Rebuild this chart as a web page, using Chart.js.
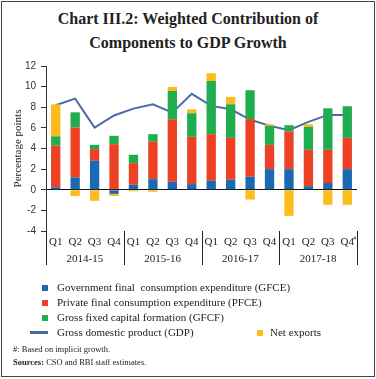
<!DOCTYPE html>
<html><head><meta charset="utf-8">
<script src="https://cdn.jsdelivr.net/npm/chart.js@4.4.1/dist/chart.umd.min.js"></script>
<style>
html,body{margin:0;padding:0;background:#fff;}
body{width:376px;height:379px;position:relative;overflow:hidden;font-family:"Liberation Serif",serif;color:#222;}
#frame{position:absolute;left:1px;top:1px;width:372px;height:374px;border:1px solid #444;}
#title{position:absolute;left:0;top:7px;width:376px;text-align:center;font-weight:bold;font-size:16px;line-height:24px;color:#222;}
#cv{position:absolute;left:0;top:0;}
.lg{position:absolute;font-size:11px;line-height:12px;white-space:nowrap;color:#222;}
.sq{position:absolute;width:6px;height:6px;}
.ln{position:absolute;width:18px;height:3px;}
.fn{position:absolute;left:13px;font-size:8.5px;white-space:nowrap;color:#222;}
</style></head>
<body>
<div id="frame"></div>
<div id="title">Chart III.2: Weighted Contribution of<br>Components to GDP Growth</div>
<canvas id="cv" width="376" height="379"></canvas>
<div class="sq" style="left:42px;top:285px;background:#1a6ab3"></div><div class="lg" style="left:57px;top:281px">Government final&nbsp; consumption expenditure (GFCE)</div>
<div class="sq" style="left:42px;top:300px;background:#ec4125"></div><div class="lg" style="left:57px;top:296px">Private final consumption expenditure (PFCE)</div>
<div class="sq" style="left:42px;top:315px;background:#20ad4f"></div><div class="lg" style="left:57px;top:311px">Gross fixed capital formation (GFCF)</div>
<div class="ln" style="left:30px;top:331px;background:#4a6aa9"></div><div class="lg" style="left:57px;top:326px">Gross domestic product (GDP)</div>
<div class="sq" style="left:257px;top:330px;background:#fdbc1a"></div><div class="lg" style="left:270px;top:326px">Net exports</div>
<div class="fn" style="top:344px">#: Based on implicit growth.</div>
<div class="fn" style="top:357px"><b>Sources:</b> CSO and RBI staff estimates.</div>
<script>
const quarters = ['Q1','Q2','Q3','Q4','Q1','Q2','Q3','Q4','Q1','Q2','Q3','Q4','Q1','Q2','Q3','Q4'];
const years = ['2014-15','2015-16','2016-17','2017-18'];
const yTicks = [12,10,8,6,4,2,0,-2,-4];
const gfce = [0.25,1.2,2.8,-0.4,0.48,1.03,0.77,0.55,0.87,0.97,1.26,2.0,2.0,0.35,0.65,2.0];
const pfce = [4.03,4.84,1.14,4.42,2.1,3.62,6.07,4.58,4.52,4.06,5.58,2.35,3.65,3.52,3.22,3.03];
const gfcf = [0.9,1.47,0.41,0.81,0.81,0.74,2.74,2.29,5.16,3.26,2.81,1.84,0.61,2.23,4.03,3.07];
const netExports = [3.1,-0.6,-1.07,-0.2,-0.15,-0.2,0.39,0.38,0.75,0.71,-0.95,0.16,-2.53,0.25,-1.46,-1.46];
const gdp = [8.2,8.84,6.03,7.2,7.87,8.29,7.48,9.3,8.13,7.8,6.8,6.2,5.77,6.58,7.26,7.26];

const C_BLUE='#1a6ab3', C_RED='#ec4125', C_GREEN='#20ad4f', C_YELLOW='#fdbc1a', C_LINE='#4a6aa9';

const groupPlugin = {
  id:'groups',
  afterDraw(chart){
    const ctx = chart.ctx, xs = chart.scales.x, ys = chart.scales.y;
    const area = chart.chartArea;
    const n = quarters.length, per = n/years.length;
    const step = (area.right-area.left)/n;
    ctx.save();
    ctx.strokeStyle='#222'; ctx.lineWidth=1;
    for(let g=0; g<=years.length; g++){
      const x = Math.round(area.left + g*per*step)+0.5;
      ctx.beginPath(); ctx.moveTo(x, g===0?area.bottom:area.bottom); ctx.lineTo(x, 265); ctx.stroke();
    }
    ctx.fillStyle='#222'; ctx.font='11px "Liberation Serif", serif';
    ctx.textAlign='center'; ctx.textBaseline='middle';
    years.forEach((yr,g)=>{
      const cx = (xs.getPixelForValue(g*per) + xs.getPixelForValue(g*per+per-1))/2;
      ctx.fillText(yr, cx, 259);
    });
    // superscript on last quarter label
    const lx = xs.getPixelForValue(n-1);
    ctx.font='6px "Liberation Serif", serif';
    ctx.textAlign='left';
    ctx.fillText('#', lx+6, 238);
    ctx.restore();
  }
};

new Chart(document.getElementById('cv'), {
  data:{
    labels: quarters,
    datasets:[
      {type:'line', label:'Gross domestic product (GDP)', data:gdp, borderColor:C_LINE, borderWidth:2, pointRadius:0, tension:0, order:10, fill:false},
      {type:'bar', label:'Government final consumption expenditure (GFCE)', data:gfce, backgroundColor:C_BLUE, stack:'s', order:1, categoryPercentage:1, barPercentage:0.48},
      {type:'bar', label:'Private final consumption expenditure (PFCE)', data:pfce, backgroundColor:C_RED, stack:'s', order:1, categoryPercentage:1, barPercentage:0.48},
      {type:'bar', label:'Gross fixed capital formation (GFCF)', data:gfcf, backgroundColor:C_GREEN, stack:'s', order:1, categoryPercentage:1, barPercentage:0.48},
      {type:'bar', label:'Net exports', data:netExports, backgroundColor:C_YELLOW, stack:'s', order:1, categoryPercentage:1, barPercentage:0.48}
    ]
  },
  options:{
    responsive:false, animation:false, devicePixelRatio:1,
    layout:{padding:{left:0, right:19, top:66, bottom:108}},
    plugins:{legend:{display:false}, tooltip:{enabled:false}, title:{display:false}},
    scales:{
      x:{
        stacked:true,
        grid:{display:false, drawTicks:false},
        border:{display:false},
        ticks:{font:{family:'"Liberation Serif", serif', size:11}, color:'#222', padding:5, maxRotation:0, autoSkip:false},
        afterFit(s){ s.height = 40; }
      },
      y:{
        stacked:true, min:-4, max:12,
        afterBuildTicks(s){ s.ticks = yTicks.map(v=>({value:v})); },
        grid:{drawOnChartArea:true, drawTicks:true, tickLength:5,
          color:(c)=> c.tick && c.tick.value===0 ? '#111' : 'rgba(0,0,0,0)',
          tickColor:'#333', lineWidth:1},
        border:{display:true, color:'#333', width:1},
        ticks:{font:{family:'"Liberation Sans", sans-serif', size:10}, color:'#333', padding:5},
        title:{display:true, text:'Percentage points', font:{family:'"Liberation Serif", serif', size:11}, color:'#222', padding:{top:12, bottom:0}},
        afterFit(s){ s.width = 46; }
      }
    }
  },
  plugins:[groupPlugin]
});
</script>
</body></html>
